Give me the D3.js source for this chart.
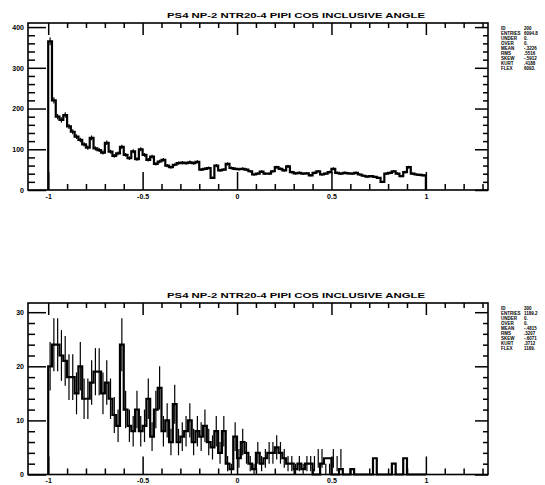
<!DOCTYPE html>
<html>
<head>
<meta charset="utf-8">
<script src="https://cdn.jsdelivr.net/npm/d3@7"></script>
<style>
  body { margin: 0; background: #fff; }
  svg { display: block; }
  text { font-family: "Liberation Sans", Arial, sans-serif; font-weight: bold; fill: #000; }
</style>
</head>
<body>
<svg id="chart" width="545" height="485"></svg>
<script>
// ---- data ----
var title = "PS4 NP-2 NTR20-4 PIPI COS INCLUSIVE ANGLE";
var binLow = -1, binWidth = 0.02;

// upper histogram, 100 bins from -1 to 1
var topCounts = [365,220,180,172,184,156,143,131,123,112,
                 104,128,102,98,92,116,94,84,90,106,
                 86,78,95,76,100,86,74,82,64,70,
                 74,60,56,62,66,67,66,68,66,69,
                 50,52,54,30,60,48,50,64,54,52,
                 51,52,50,46,38,40,45,40,40,46,
                 56,52,48,58,44,41,42,40,41,36,
                 42,46,38,40,44,52,42,40,42,41,
                 40,42,38,35,33,34,32,30,20,40,
                 42,46,40,34,44,56,40,38,37,36];

// lower histogram, 100 bins from -1 to 1
var botCounts = [20,24,24,22,21,18,18,15,20,14,
                 14,17,19,19,15,17,14,11,9,24,
                 12,9,8,12,8,9,14,7,12,16,
                 8,10,6,13,6,7,8,10,6,8,
                 7,9,6,5,8,4,8,2,1,7,
                 3,6,4,2,1,4,2,3,4,4,
                 5,4,3,2,2,1,2,1,2,2,
                 0,0,2,3,3,0,0,1,0,0,
                 1,0,0,0,0,0,3,0,0,0,
                 0,2,0,0,3,0,0,0,0,0];

var xLabels = [-1, -0.5, 0, 0.5, 1];
var xMinor = [-0.9,-0.8,-0.7,-0.6,-0.4,-0.3,-0.2,-0.1,0.1,0.2,0.3,0.4,0.6,0.7,0.8,0.9,1.1,1.2,1.3];

var topYMajor = [0, 100, 200, 300, 400];
var topYMinor = [20,40,60,80,120,140,160,180,220,240,260,280,320,340,360,380];
var botYMajor = [0, 10, 20, 30];
var botYMinor = [2,4,6,8,12,14,16,18,22,24,26,28];

var statNames = ["ID","ENTRIES","UNDER","OVER","MEAN","RMS","SKEW","KURT","FLEX"];
var topStats = ["200","6094.8","0.","0.","-.3226",".5516","-.5912",".4188","6093."];
var botStats = ["300","1189.2","0.","0.","-.4815",".3207","-.6071",".3712","1189."];

// ---- layout ----
var svg = d3.select("#chart");
var left = 28, right = 488;

var x = d3.scaleLinear().domain([-1.107, 1.329]).range([left, right]);

function panel(frameTop, frameBot, yMax, counts, yMajor, yMinor, stats, errScale) {
  var y = d3.scaleLinear().domain([0, yMax]).range([frameBot, frameTop]);
  var g = svg.append("g");

  // title
  g.append("text")
    .attr("x", 167).attr("y", frameTop - 5)
    .attr("textLength", 258).attr("lengthAdjust", "spacingAndGlyphs")
    .style("font-size", "8px")
    .text(title);

  // frame
  g.append("rect")
    .attr("x", left).attr("y", frameTop)
    .attr("width", right - left).attr("height", frameBot - frameTop)
    .attr("fill", "none").attr("stroke", "#000").attr("stroke-width", 1.6);

  function tickAxis(axis, tr) {
    var a = g.append("g").attr("transform", tr).call(axis);
    a.select(".domain").remove();
    a.selectAll("line").attr("stroke", "#000").attr("stroke-width", 1.5);
    return a;
  }

  // bottom ticks (pointing up) and labels
  tickAxis(d3.axisTop(x).tickValues(xLabels).tickSize(18).tickFormat(""), "translate(0," + frameBot + ")");
  tickAxis(d3.axisTop(x).tickValues(xMinor).tickSize(6).tickFormat(""), "translate(0," + frameBot + ")");
  var lab = g.append("g").attr("transform", "translate(0," + frameBot + ")")
    .call(d3.axisBottom(x).tickValues(xLabels).tickSize(0).tickPadding(4)
      .tickFormat(function(d) { return d; }));
  lab.select(".domain").remove();
  lab.selectAll("text").style("font-size", "7px").style("font-family", "Liberation Sans").style("font-weight", "bold");

  // top ticks (pointing down)
  tickAxis(d3.axisBottom(x).tickValues(xLabels).tickSize(12).tickFormat(""), "translate(0," + frameTop + ")");
  tickAxis(d3.axisBottom(x).tickValues(xMinor).tickSize(5).tickFormat(""), "translate(0," + frameTop + ")");

  // left ticks and labels
  tickAxis(d3.axisRight(y).tickValues(yMajor).tickSize(18).tickFormat(""), "translate(" + left + ",0)");
  tickAxis(d3.axisRight(y).tickValues(yMinor).tickSize(7).tickFormat(""), "translate(" + left + ",0)");
  var ylab = g.append("g").attr("transform", "translate(" + left + ",0)")
    .call(d3.axisLeft(y).tickValues(yMajor).tickSize(0).tickPadding(4));
  ylab.select(".domain").remove();
  ylab.selectAll("text").style("font-size", "7px").style("font-family", "Liberation Sans").style("font-weight", "bold");

  // right ticks
  tickAxis(d3.axisLeft(y).tickValues(yMajor).tickSize(13).tickFormat(""), "translate(" + right + ",0)");
  tickAxis(d3.axisLeft(y).tickValues(yMinor).tickSize(5).tickFormat(""), "translate(" + right + ",0)");

  // histogram step outline
  var pts = [[binLow, 0]];
  counts.forEach(function(c, i) {
    var lo = binLow + i * binWidth;
    pts.push([lo, c]);
    pts.push([lo + binWidth, c]);
  });
  pts.push([binLow + counts.length * binWidth, 0]);

  var line = d3.line()
    .x(function(d) { return x(d[0]); })
    .y(function(d) { return y(d[1]); });

  g.append("path")
    .datum(pts)
    .attr("d", line)
    .attr("fill", "none")
    .attr("stroke", "#000")
    .attr("stroke-width", 2.2)
    .attr("stroke-linejoin", "miter");

  // error bars
  g.selectAll(".err")
    .data(counts)
    .enter().append("line")
    .filter(function(c) { return c > 0; })
    .attr("x1", function(c, i) { return x(binLow + (i + 0.5) * binWidth); })
    .attr("x2", function(c, i) { return x(binLow + (i + 0.5) * binWidth); })
    .attr("y1", function(c) { return y(Math.min(yMax, c + Math.sqrt(c) * errScale)); })
    .attr("y2", function(c) { return y(Math.max(0, c - Math.sqrt(c) * errScale)); })
    .attr("stroke", "#000")
    .attr("stroke-width", 1.2);

  // statistics box
  var st = g.append("g");
  statNames.forEach(function(n, i) {
    st.append("text").attr("x", 501).attr("y", frameTop + 7 + i * 5)
      .style("font-size", "4.5px").text(n);
    st.append("text").attr("x", 524).attr("y", frameTop + 7 + i * 5)
      .style("font-size", "4.5px").text(stats[i]);
  });
}

panel(23, 190, 410, topCounts, topYMajor, topYMinor, topStats, 0.5);
panel(303, 474.5, 31.7, botCounts, botYMajor, botYMinor, botStats, 1);
</script>
</body>
</html>
